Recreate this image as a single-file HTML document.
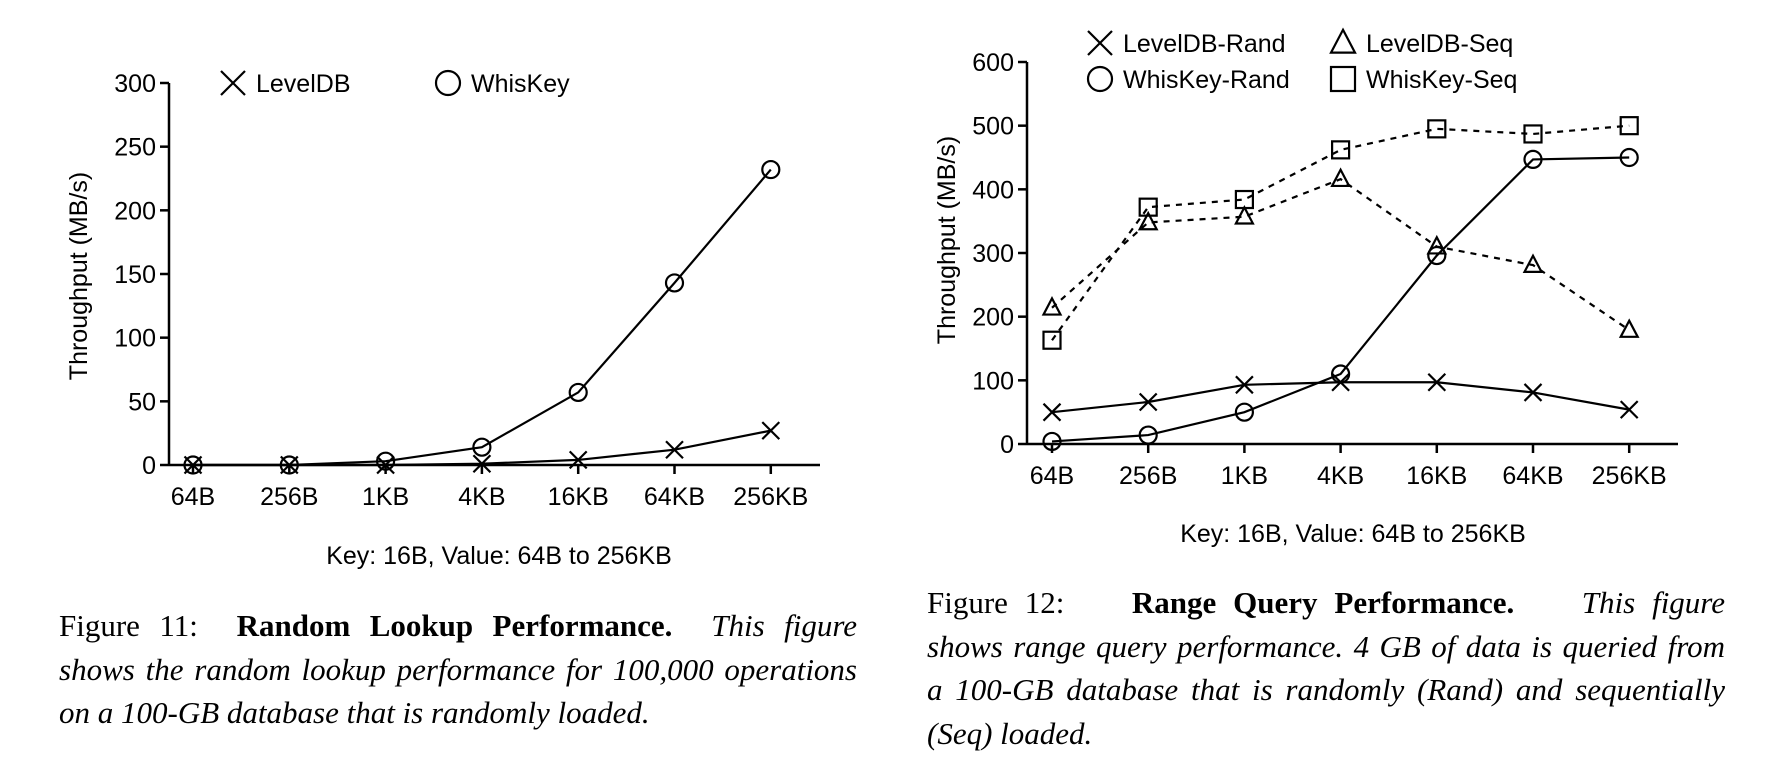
<!DOCTYPE html>
<html><head><meta charset="utf-8"><style>
html,body{margin:0;padding:0;background:#fff;}
body{width:1768px;height:758px;position:relative;overflow:hidden;}
svg{position:absolute;left:0;top:0;}
.cap{position:absolute;font-family:"Liberation Serif",serif;font-size:31px;line-height:43.5px;color:#000;}
.cap .ln{display:block;height:43.5px;white-space:nowrap;text-align:justify;text-align-last:justify;}
.cap .ln.last{text-align-last:left;}
</style></head><body>
<svg id="chart" width="1768" height="758" xmlns="http://www.w3.org/2000/svg" font-family="Liberation Sans, sans-serif"></svg>

<div class="cap" style="left:59px;top:604px;width:798px;">
<span class="ln">Figure 11: &nbsp;<b>Random Lookup Performance.</b> &nbsp;<i>This figure</i></span>
<span class="ln"><i>shows the random lookup performance for 100,000 operations</i></span>
<span class="ln last"><i>on a 100-GB database that is randomly loaded.</i></span>
</div>
<div class="cap" style="left:927px;top:581px;width:798px;">
<span class="ln">Figure 12: &nbsp;&nbsp; <b>Range Query Performance.</b> &nbsp;&nbsp; <i>This figure</i></span>
<span class="ln"><i>shows range query performance. 4 GB of data is queried from</i></span>
<span class="ln"><i>a 100-GB database that is randomly (Rand) and sequentially</i></span>
<span class="ln last"><i>(Seq) loaded.</i></span>
</div>

<script>
const categories = ["64B","256B","1KB","4KB","16KB","64KB","256KB"];
const fig11Ticks = [0,50,100,150,200,250,300];
const fig11LevelDB = [0,0,0,1,4,12,27];
const fig11WhisKey = [0,0,3,14,57,143,232];
const fig12Ticks = [0,100,200,300,400,500,600];
const fig12LevelDBRand = [50,66,93,97,97,81,54];
const fig12WhisKeyRand = [4,14,50,110,296,447,450];
const fig12LevelDBSeq = [214,348,357,416,310,281,179];
const fig12WhisKeySeq = [163,372,384,462,495,487,500];

const NS="http://www.w3.org/2000/svg";
const svg=document.getElementById('chart');
function mk(tag,attrs,parent){const e=document.createElementNS(NS,tag);for(const k in attrs)e.setAttribute(k,attrs[k]);(parent||svg).appendChild(e);return e;}
function txt(s,attrs,parent){const e=mk('text',attrs,parent);e.textContent=s;return e;}

function marker(type,x,y,s,g){
  const st={stroke:'#000','stroke-width':2.2,fill:'none'};
  if(type==='x') return mk('path',{d:`M${x-s},${y-s}L${x+s},${y+s}M${x-s},${y+s}L${x+s},${y-s}`,...st},g);
  if(type==='o') return mk('circle',{cx:x,cy:y,r:s,...st},g);
  if(type==='t') return mk('path',{d:`M${x},${y-s*1.1}L${x+s},${y+s*0.8}L${x-s},${y+s*0.8}Z`,...st},g);
  return mk('rect',{x:x-s,y:y-s,width:2*s,height:2*s,...st},g);
}

function chart(cfg){
  const g=mk('g',{});
  
  
  const xs=i=>cfg.x0+i*cfg.dx;
  const ys=v=>cfg.y0-(v/cfg.ymax)*(cfg.y0-cfg.ytop);
  const ya=mk('line',{x1:cfg.ax,y1:ys(cfg.ymax),x2:cfg.ax,y2:cfg.y0,stroke:'#000','stroke-width':2.5},g);
  
  
  const xa=mk('line',{x1:cfg.ax,y1:cfg.y0,x2:cfg.axEnd,y2:cfg.y0,stroke:'#000','stroke-width':2.5},g);
  
  
  cfg.ticks.forEach(t=>{
    mk('line',{x1:cfg.ax-9,y1:ys(t),x2:cfg.ax,y2:ys(t),stroke:'#000','stroke-width':2.5},g);
    const l=txt(String(t),{x:cfg.ax-13,y:ys(t)+9,'font-size':25,'text-anchor':'end'},g);
    
    
  });
  categories.forEach((c,i)=>{
    mk('line',{x1:xs(i),y1:cfg.y0,x2:xs(i),y2:cfg.y0+9,stroke:'#000','stroke-width':2.5},g);
    const l=txt(c,{x:xs(i),y:cfg.y0+40,'font-size':25,'text-anchor':'middle'},g);
    
    
  });
  const yt=txt('Throughput (MB/s)',{x:0,y:0,'font-size':25,'text-anchor':'middle',transform:`translate(${cfg.ytX},${cfg.ytY}) rotate(-90)`},g);
  
  
  const xt=txt('Key: 16B, Value: 64B to 256KB',{x:cfg.xtX,y:cfg.xtY,'font-size':25,'text-anchor':'middle'},g);
  
  
  cfg.series.forEach(s=>{
    const sg=mk('g',{},g);
    
    
    const pts=s.values.map((v,i)=>xs(i)+','+ys(v)).join(' ');
    mk('polyline',{points:pts,fill:'none',stroke:'#000','stroke-width':2.2,'stroke-dasharray':s.dash?'6,6':'none'},sg);
    s.values.forEach((v,i)=>{
      const m=marker(s.m,xs(i),ys(v),8.5,sg);
      
      
    });
  });
  cfg.legend.forEach(l=>{
    const lg=mk('g',{},g);
    
    
    marker(l.m,l.x,l.y,12,lg);
    txt(l.label,{x:l.x+23,y:l.y+9,'font-size':25},lg);
  });
}

chart({name:'figure-11-chart',ax:169,axEnd:820,x0:193,dx:96.3,y0:465,ytop:83,ymax:300,ticks:fig11Ticks,
  ytX:87,ytY:276,xtX:499,xtY:564,
  series:[{label:'LevelDB',values:fig11LevelDB,m:'x'},{label:'WhisKey',values:fig11WhisKey,m:'o'}],
  legend:[{m:'x',x:233,y:83,label:'LevelDB'},{m:'o',x:448,y:83,label:'WhisKey'}]});

chart({name:'figure-12-chart',ax:1027,axEnd:1678,x0:1052,dx:96.2,y0:444,ytop:62,ymax:600,ticks:fig12Ticks,
  ytX:955,ytY:240,xtX:1353,xtY:542,
  series:[{label:'LevelDB-Seq',values:fig12LevelDBSeq,m:'t',dash:true},{label:'WhisKey-Seq',values:fig12WhisKeySeq,m:'s',dash:true},
          {label:'LevelDB-Rand',values:fig12LevelDBRand,m:'x'},{label:'WhisKey-Rand',values:fig12WhisKeyRand,m:'o'}],
  legend:[{m:'x',x:1100,y:43,label:'LevelDB-Rand'},{m:'o',x:1100,y:79,label:'WhisKey-Rand'},
          {m:'t',x:1343,y:43,label:'LevelDB-Seq'},{m:'s',x:1343,y:79,label:'WhisKey-Seq'}]});
</script>
</body></html>
